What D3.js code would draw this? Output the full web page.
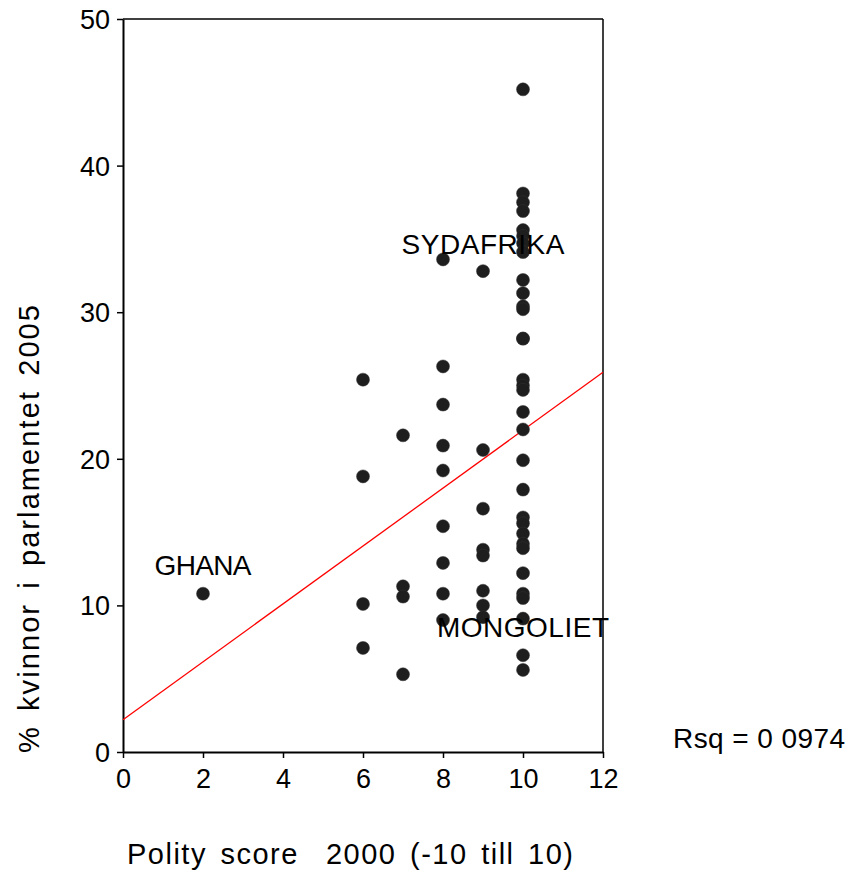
<!DOCTYPE html>
<html><head><meta charset="utf-8">
<script src="https://cdn.jsdelivr.net/npm/d3@7"></script>
<style>body{margin:0;background:#fff}svg{display:block}text{font-family:"Liberation Sans",Arial,sans-serif;fill:#000}</style>
</head><body><svg id="c" width="852" height="887"></svg>
<script>
const polity = [2,6,6,6,6,7,7,7,7,8,8,8,8,8,8,8,8,8,9,9,9,9,9,9,9,9,
  10,10,10,10,10,10,10,10,10,10,10,10,10,10,10,10,10,10,10,10,10,10,10,10,10,10,10,10,10,10,10,10];
const women = [10.8, 25.4,18.8,10.1,7.1, 21.6,11.3,10.6,5.3,
  33.6,26.3,23.7,20.9,19.2,15.4,12.9,10.8,9.0,
  32.8,20.6,16.6,13.8,13.4,11.0,10.0,9.2,
  45.2,38.1,37.5,36.9,35.6,35.2,34.7,34.1,32.2,31.3,30.4,30.2,28.2,28.2,25.4,25.0,24.7,23.2,22.0,19.9,17.9,16.0,15.6,14.9,14.2,13.9,12.2,10.8,10.5,9.1,6.6,5.6];
const labelText = ["GHANA","SYDAFRIKA","MONGOLIET"];
const labelX = [2, 9, 10];
const labelY = [12.1, 34.0, 7.85];
const fitX = [0, 12];
const fitY = [2.2, 25.9];
const xTicks = [0,2,4,6,8,10,12];
const yTicks = [0,10,20,30,40,50];
const rsqText = "Rsq = 0 0974";

const svg = d3.select("#c");
const L=123, R=603, T=19, B=752;
const x = d3.scaleLinear().domain([0,12]).range([L,R]);
const y = d3.scaleLinear().domain([0,50]).range([B,T]);
const FONT = "Liberation Sans, Arial, sans-serif";

// frame
svg.append("line").attr("x1",L).attr("x2",R).attr("y1",T).attr("y2",T).attr("stroke","#000").attr("stroke-width",1.5);
svg.append("line").attr("x1",R).attr("x2",R).attr("y1",T).attr("y2",B).attr("stroke","#000").attr("stroke-width",1.5);

const xa = svg.append("g").attr("transform",`translate(0,${B})`)
  .call(d3.axisBottom(x).tickValues(xTicks).tickSize(6).tickSizeOuter(0).tickFormat(d3.format("d")));
const ya = svg.append("g").attr("transform",`translate(${L},0)`)
  .call(d3.axisLeft(y).tickValues(yTicks).tickSize(6).tickSizeOuter(0).tickFormat(d3.format("d")));
[xa,ya].forEach(g=>{
  g.select(".domain").attr("stroke","#000").attr("stroke-width",2);
  g.selectAll(".tick line").attr("stroke","#000").attr("stroke-width",1.5);
  g.selectAll(".tick text").style("font-size","27px").attr("fill","#000").style("font-family",FONT);
});
xa.selectAll(".tick text").attr("dy","0.71em").attr("y",17);
ya.selectAll(".tick text").attr("x",-13).attr("dy","0.35em");

// regression line
svg.append("line").attr("x1",x(fitX[0])).attr("y1",y(fitY[0])).attr("x2",x(fitX[1])).attr("y2",y(fitY[1]))
  .attr("stroke","#ff0000").attr("stroke-width",1.3);

// points
svg.append("g").selectAll("circle").data(women).join("circle")
  .attr("cx",(d,i)=>x(polity[i])).attr("cy",d=>y(d)).attr("r",6.5)
  .attr("fill","#1e1e1e").attr("stroke","#333").attr("stroke-width",0.5);

// labels
const labelW = [97, 163, 172];
svg.append("g").selectAll("text").data(labelText).join("text")
  .attr("x",(d,i)=>x(labelX[i])).attr("y",(d,i)=>y(labelY[i]))
  .attr("text-anchor","middle").style("font-size","28px")
  .attr("textLength",(d,i)=>labelW[i]).attr("lengthAdjust","spacing").text(d=>d);

svg.append("text").attr("x",673).attr("y",748).style("font-size","28px")
  .attr("textLength",172).attr("lengthAdjust","spacing").text(rsqText);

svg.append("text").attr("x",127).attr("y",864).style("font-size","29px")
  .style("word-spacing","4px").style("white-space","pre")
  .attr("textLength",446).attr("lengthAdjust","spacing")
  .text("Polity score  2000 (-10 till 10)");
svg.append("text").attr("transform","translate(39,529) rotate(-90)").attr("text-anchor","middle").style("font-size","29px")
  .style("word-spacing","4px")
  .attr("textLength",448).attr("lengthAdjust","spacing")
  .text("% kvinnor i parlamentet 2005");
</script></body></html>
